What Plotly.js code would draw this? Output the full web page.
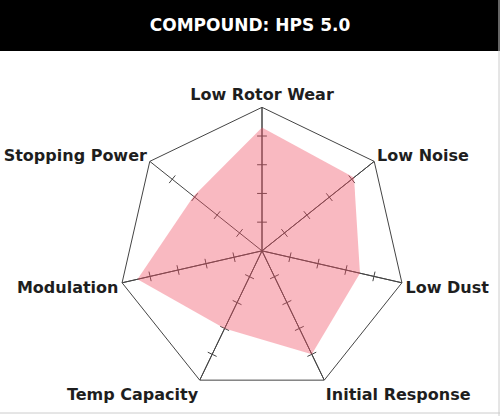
<!DOCTYPE html>
<html>
<head>
<meta charset="utf-8">
<script src="https://cdn.plot.ly/plotly-3.0.1.min.js"></script>
<style>html,body{margin:0;padding:0;background:#fff;}#chart{width:500px;height:416px;}</style>
</head>
<body>
<div id="chart"></div>
<script>
const titleText = "COMPOUND: HPS 5.0";
const categories = ["Low Rotor Wear", "Low Noise", "Low Dust", "Initial Response", "Temp Capacity", "Modulation", "Stopping Power"];
const values = [4.3, 4.1, 3.5, 4.0, 3.0, 4.45, 3.05];
const tickValues = [1, 2, 3, 4];
const rangeMax = 5;

// spokes: centre -> outer vertex for each category
const spokeR = [], spokeTheta = [];
categories.forEach(c => { spokeR.push(0, rangeMax); spokeTheta.push(c, c); });

// tick marks along each spoke, derived from categories and tickValues
const tickR = [], tickTheta = [], tickAngle = [];
categories.forEach((c, i) => {
  tickValues.forEach(v => {
    tickR.push(v);
    tickTheta.push(c);
    tickAngle.push(i * 360 / categories.length);
  });
});

const data = [
  {
    type: "scatterpolar",
    r: spokeR,
    theta: spokeTheta,
    mode: "lines",
    line: {color: "#444", width: 1},
    hoverinfo: "skip"
  },
  {
    type: "scatterpolar",
    r: tickR,
    theta: tickTheta,
    mode: "markers",
    marker: {symbol: "line-ew", size: 7, angle: tickAngle, color: "#444", line: {width: 1, color: "#444"}},
    hoverinfo: "skip"
  },
  {
    type: "scatterpolar",
    r: values,
    theta: categories,
    fill: "toself",
    fillcolor: "rgba(240,80,100,0.4)",
    line: {width: 0, color: "rgba(0,0,0,0)"},
    mode: "lines",
    hoverinfo: "skip"
  }
];

const layout = {
  width: 500,
  height: 416,
  margin: {l: 0, r: 0, t: 0, b: 0},
  paper_bgcolor: "#fff",
  showlegend: false,
  polar: {
    domain: {x: [0.236, 0.812], y: [0.052, 0.742]},
    bgcolor: "rgba(0,0,0,0)",
    gridshape: "linear",
    radialaxis: {range: [0, rangeMax], visible: false, showgrid: false},
    angularaxis: {
      direction: "clockwise",
      rotation: 90,
      showline: true,
      linecolor: "#444",
      linewidth: 1,
      showgrid: false,
      ticks: "",
      tickfont: {family: "'DejaVu Sans', sans-serif", size: 16, color: "#1e1e1e", weight: "bold"}
    }
  },
  shapes: [
    {type: "rect", xref: "paper", yref: "paper", x0: 0, x1: 1, y0: 1 - 51/416, y1: 1, fillcolor: "#000", line: {width: 0}, layer: "below"},
    {type: "line", xref: "paper", yref: "paper", x0: 0, x1: 1, y0: 1 - 413/416, y1: 1 - 413/416, line: {color: "#ccc", width: 1}},
    {type: "line", xref: "paper", yref: "paper", x0: 0.998, x1: 0.998, y0: 0, y1: 1, line: {color: "#ccc", width: 1}}
  ],
  title: {
    text: titleText,
    x: 0.5, xanchor: "center",
    y: 1 - 25/416, yanchor: "middle",
    font: {family: "'DejaVu Sans', sans-serif", size: 17, color: "#fff", weight: "bold"}
  }
};

Plotly.newPlot("chart", data, layout, {displayModeBar: false, staticPlot: true});
</script>
</body>
</html>
